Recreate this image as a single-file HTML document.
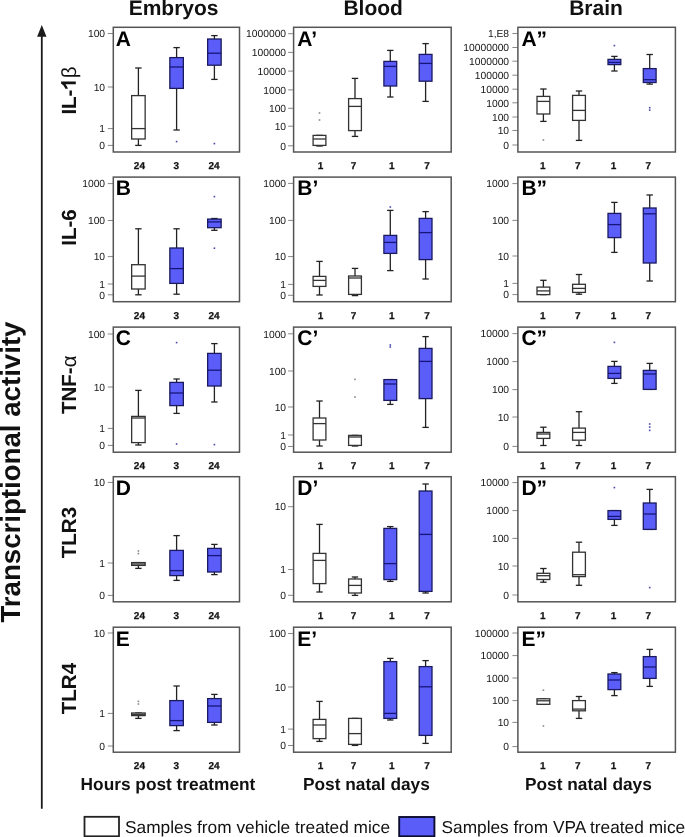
<!DOCTYPE html>
<html><head><meta charset="utf-8"><style>
html,body{margin:0;padding:0;background:#fff;}
body{width:685px;height:837px;overflow:hidden;}
svg{display:block;font-family:"Liberation Sans",sans-serif;will-change:transform;text-rendering:geometricPrecision;}
</style></head><body>
<svg width="685" height="837" viewBox="0 0 685 837">
<rect width="685" height="837" fill="#fff"/>
<text x="173.6" y="14.9" font-size="21" font-weight="bold" text-anchor="middle" fill="#111">Embryos</text>
<text x="373.2" y="14.9" font-size="21" font-weight="bold" text-anchor="middle" fill="#111">Blood</text>
<text x="596.0" y="14.9" font-size="21" font-weight="bold" text-anchor="middle" fill="#111">Brain</text>
<line x1="41.8" y1="34" x2="41.8" y2="808.8" stroke="#1a1a1a" stroke-width="1.8"/>
<polygon points="41.8,25 37.1,36.7 46.5,36.7" fill="#1a1a1a"/>
<text transform="translate(19.9,622.6) rotate(-90)" font-size="27.65" font-weight="bold" fill="#111">Transcriptional activity</text>
<g transform="translate(75.8,114.6) rotate(-90)" fill="#111"><text font-size="20.5" font-weight="bold">IL-</text><path d="M0.395 0L0.395 0.716L0.283 0.716C0.252 0.63 0.17 0.56 0.042 0.51L0.042 0.385C0.12 0.41 0.2 0.455 0.255 0.505L0.255 0Z" transform="translate(25.05,0) scale(20.5,-20.5)"/><text x="36.45" font-size="20.5">β</text></g>
<text transform="translate(75.8,245.8) rotate(-90)" font-size="20.5" font-weight="bold" fill="#111">IL-6</text>
<text transform="translate(75.8,414.0) rotate(-90)" font-size="20.5" font-weight="bold" fill="#111">TNF-<tspan font-weight="normal">α</tspan></text>
<text transform="translate(75.8,558.2) rotate(-90)" font-size="20.5" font-weight="bold" fill="#111">TLR3</text>
<text transform="translate(75.8,714.2) rotate(-90)" font-size="20.5" font-weight="bold" fill="#111">TLR4</text>
<line x1="107.8" y1="33.5" x2="113.3" y2="33.5" stroke="#888" stroke-width="1"/>
<text x="105.1" y="37.2" font-size="10.3" text-anchor="end" fill="#151515">100</text>
<line x1="107.8" y1="87.0" x2="113.3" y2="87.0" stroke="#888" stroke-width="1"/>
<text x="105.1" y="90.7" font-size="10.3" text-anchor="end" fill="#151515">10</text>
<line x1="107.8" y1="128.6" x2="113.3" y2="128.6" stroke="#888" stroke-width="1"/>
<text x="105.1" y="132.3" font-size="10.3" text-anchor="end" fill="#151515">1</text>
<line x1="107.8" y1="145.4" x2="113.3" y2="145.4" stroke="#888" stroke-width="1"/>
<text x="105.1" y="149.1" font-size="10.3" text-anchor="end" fill="#151515">0</text>
<line x1="138.4" y1="68" x2="138.4" y2="95.6" stroke="#222" stroke-width="1.3"/>
<line x1="135.20000000000002" y1="68" x2="141.6" y2="68" stroke="#222" stroke-width="1.3"/>
<line x1="138.4" y1="139" x2="138.4" y2="145.4" stroke="#222" stroke-width="1.3"/>
<line x1="135.20000000000002" y1="145.4" x2="141.6" y2="145.4" stroke="#222" stroke-width="1.3"/>
<rect x="131.65" y="95.6" width="13.5" height="43.4" fill="#fff" stroke="#333" stroke-width="1.3"/>
<line x1="131.65" y1="128.6" x2="145.15" y2="128.6" stroke="#333" stroke-width="1.3"/>
<line x1="176.6" y1="47.6" x2="176.6" y2="57.6" stroke="#222" stroke-width="1.3"/>
<line x1="173.4" y1="47.6" x2="179.79999999999998" y2="47.6" stroke="#222" stroke-width="1.3"/>
<line x1="176.6" y1="88.4" x2="176.6" y2="130" stroke="#222" stroke-width="1.3"/>
<line x1="173.4" y1="130" x2="179.79999999999998" y2="130" stroke="#222" stroke-width="1.3"/>
<rect x="169.85" y="57.6" width="13.5" height="30.8" fill="#5b5df8" stroke="#1a1a5e" stroke-width="1.3"/>
<line x1="169.85" y1="67" x2="183.35" y2="67" stroke="#16167a" stroke-width="1.3"/>
<rect x="175.79999999999998" y="140.79999999999998" width="1.6" height="1.6" fill="#4848a8"/>
<line x1="214.4" y1="35.6" x2="214.4" y2="39" stroke="#222" stroke-width="1.3"/>
<line x1="211.20000000000002" y1="35.6" x2="217.6" y2="35.6" stroke="#222" stroke-width="1.3"/>
<line x1="214.4" y1="65.2" x2="214.4" y2="79.4" stroke="#222" stroke-width="1.3"/>
<line x1="211.20000000000002" y1="79.4" x2="217.6" y2="79.4" stroke="#222" stroke-width="1.3"/>
<rect x="207.65" y="39" width="13.5" height="26.2" fill="#5b5df8" stroke="#1a1a5e" stroke-width="1.3"/>
<line x1="207.65" y1="53.2" x2="221.15" y2="53.2" stroke="#16167a" stroke-width="1.3"/>
<rect x="213.6" y="142.79999999999998" width="1.6" height="1.6" fill="#4848a8"/>
<rect x="113.3" y="27.3" width="126.2" height="124.7" fill="none" stroke="#555" stroke-width="1.5"/>
<text x="115.7" y="45.6" font-size="21" font-weight="bold" fill="#000">A</text>
<text x="139.4" y="169.4" font-size="10" font-weight="bold" text-anchor="middle" fill="#111" stroke="#111" stroke-width="0.25">24</text>
<text x="176.3" y="169.4" font-size="10" font-weight="bold" text-anchor="middle" fill="#111" stroke="#111" stroke-width="0.25">3</text>
<text x="214.1" y="169.4" font-size="10" font-weight="bold" text-anchor="middle" fill="#111" stroke="#111" stroke-width="0.25">24</text>
<line x1="288.1" y1="33.7" x2="293.6" y2="33.7" stroke="#888" stroke-width="1"/>
<text x="286.1" y="37.4" font-size="10.3" text-anchor="end" fill="#151515">1000000</text>
<line x1="288.1" y1="52.4" x2="293.6" y2="52.4" stroke="#888" stroke-width="1"/>
<text x="286.1" y="56.1" font-size="10.3" text-anchor="end" fill="#151515">100000</text>
<line x1="288.1" y1="71.1" x2="293.6" y2="71.1" stroke="#888" stroke-width="1"/>
<text x="286.1" y="74.8" font-size="10.3" text-anchor="end" fill="#151515">10000</text>
<line x1="288.1" y1="89.9" x2="293.6" y2="89.9" stroke="#888" stroke-width="1"/>
<text x="286.1" y="93.6" font-size="10.3" text-anchor="end" fill="#151515">1000</text>
<line x1="288.1" y1="108.3" x2="293.6" y2="108.3" stroke="#888" stroke-width="1"/>
<text x="286.1" y="112.0" font-size="10.3" text-anchor="end" fill="#151515">100</text>
<line x1="288.1" y1="126.2" x2="293.6" y2="126.2" stroke="#888" stroke-width="1"/>
<text x="286.1" y="129.9" font-size="10.3" text-anchor="end" fill="#151515">10</text>
<line x1="288.1" y1="145.8" x2="293.6" y2="145.8" stroke="#888" stroke-width="1"/>
<text x="286.1" y="149.5" font-size="10.3" text-anchor="end" fill="#151515">0</text>
<line x1="316.3" y1="135.4" x2="322.7" y2="135.4" stroke="#222" stroke-width="1.3"/>
<line x1="319.5" y1="145.4" x2="319.5" y2="146" stroke="#222" stroke-width="1.3"/>
<line x1="316.3" y1="146" x2="322.7" y2="146" stroke="#222" stroke-width="1.3"/>
<rect x="313.1" y="135.4" width="12.8" height="10.0" fill="#fff" stroke="#333" stroke-width="1.3"/>
<line x1="313.1" y1="139" x2="325.9" y2="139" stroke="#333" stroke-width="1.3"/>
<rect x="318.7" y="112.2" width="1.6" height="1.6" fill="#888"/>
<rect x="318.7" y="119.2" width="1.6" height="1.6" fill="#888"/>
<line x1="355.0" y1="78.4" x2="355.0" y2="98.6" stroke="#222" stroke-width="1.3"/>
<line x1="351.8" y1="78.4" x2="358.2" y2="78.4" stroke="#222" stroke-width="1.3"/>
<line x1="355.0" y1="130.6" x2="355.0" y2="136.4" stroke="#222" stroke-width="1.3"/>
<line x1="351.8" y1="136.4" x2="358.2" y2="136.4" stroke="#222" stroke-width="1.3"/>
<rect x="348.6" y="98.6" width="12.8" height="32.0" fill="#fff" stroke="#333" stroke-width="1.3"/>
<line x1="348.6" y1="106.4" x2="361.4" y2="106.4" stroke="#333" stroke-width="1.3"/>
<line x1="390.3" y1="50.4" x2="390.3" y2="61.4" stroke="#222" stroke-width="1.3"/>
<line x1="387.1" y1="50.4" x2="393.5" y2="50.4" stroke="#222" stroke-width="1.3"/>
<line x1="390.3" y1="86" x2="390.3" y2="97" stroke="#222" stroke-width="1.3"/>
<line x1="387.1" y1="97" x2="393.5" y2="97" stroke="#222" stroke-width="1.3"/>
<rect x="383.90000000000003" y="61.4" width="12.8" height="24.6" fill="#5b5df8" stroke="#1a1a5e" stroke-width="1.3"/>
<line x1="383.90000000000003" y1="66.4" x2="396.7" y2="66.4" stroke="#16167a" stroke-width="1.3"/>
<line x1="425.6" y1="43.6" x2="425.6" y2="54.4" stroke="#222" stroke-width="1.3"/>
<line x1="422.40000000000003" y1="43.6" x2="428.8" y2="43.6" stroke="#222" stroke-width="1.3"/>
<line x1="425.6" y1="81.2" x2="425.6" y2="101.4" stroke="#222" stroke-width="1.3"/>
<line x1="422.40000000000003" y1="101.4" x2="428.8" y2="101.4" stroke="#222" stroke-width="1.3"/>
<rect x="419.20000000000005" y="54.4" width="12.8" height="26.8" fill="#5b5df8" stroke="#1a1a5e" stroke-width="1.3"/>
<line x1="419.20000000000005" y1="63.4" x2="432.0" y2="63.4" stroke="#16167a" stroke-width="1.3"/>
<rect x="293.6" y="27.3" width="157.6" height="124.7" fill="none" stroke="#555" stroke-width="1.5"/>
<text x="297.25" y="45.6" font-size="21" font-weight="bold" fill="#000">A’</text>
<text x="320.6" y="169.4" font-size="10" font-weight="bold" text-anchor="middle" fill="#111" stroke="#111" stroke-width="0.25">1</text>
<text x="353.5" y="169.4" font-size="10" font-weight="bold" text-anchor="middle" fill="#111" stroke="#111" stroke-width="0.25">7</text>
<text x="391.8" y="169.4" font-size="10" font-weight="bold" text-anchor="middle" fill="#111" stroke="#111" stroke-width="0.25">1</text>
<text x="427.1" y="169.4" font-size="10" font-weight="bold" text-anchor="middle" fill="#111" stroke="#111" stroke-width="0.25">7</text>
<line x1="512.4" y1="33.5" x2="517.9" y2="33.5" stroke="#888" stroke-width="1"/>
<text x="509.09999999999997" y="37.2" font-size="10.3" text-anchor="end" fill="#151515">1,E8</text>
<line x1="512.4" y1="47.5" x2="517.9" y2="47.5" stroke="#888" stroke-width="1"/>
<text x="509.09999999999997" y="51.2" font-size="10.3" text-anchor="end" fill="#151515">10000000</text>
<line x1="512.4" y1="61.2" x2="517.9" y2="61.2" stroke="#888" stroke-width="1"/>
<text x="509.09999999999997" y="64.9" font-size="10.3" text-anchor="end" fill="#151515">1000000</text>
<line x1="512.4" y1="75.2" x2="517.9" y2="75.2" stroke="#888" stroke-width="1"/>
<text x="509.09999999999997" y="78.9" font-size="10.3" text-anchor="end" fill="#151515">100000</text>
<line x1="512.4" y1="89.2" x2="517.9" y2="89.2" stroke="#888" stroke-width="1"/>
<text x="509.09999999999997" y="92.9" font-size="10.3" text-anchor="end" fill="#151515">10000</text>
<line x1="512.4" y1="102.8" x2="517.9" y2="102.8" stroke="#888" stroke-width="1"/>
<text x="509.09999999999997" y="106.5" font-size="10.3" text-anchor="end" fill="#151515">1000</text>
<line x1="512.4" y1="117.0" x2="517.9" y2="117.0" stroke="#888" stroke-width="1"/>
<text x="509.09999999999997" y="120.7" font-size="10.3" text-anchor="end" fill="#151515">100</text>
<line x1="512.4" y1="130.5" x2="517.9" y2="130.5" stroke="#888" stroke-width="1"/>
<text x="509.09999999999997" y="134.2" font-size="10.3" text-anchor="end" fill="#151515">10</text>
<line x1="512.4" y1="145.0" x2="517.9" y2="145.0" stroke="#888" stroke-width="1"/>
<text x="509.09999999999997" y="148.7" font-size="10.3" text-anchor="end" fill="#151515">0</text>
<line x1="543.4" y1="89" x2="543.4" y2="96.4" stroke="#222" stroke-width="1.3"/>
<line x1="540.1999999999999" y1="89" x2="546.6" y2="89" stroke="#222" stroke-width="1.3"/>
<line x1="543.4" y1="114" x2="543.4" y2="121.4" stroke="#222" stroke-width="1.3"/>
<line x1="540.1999999999999" y1="121.4" x2="546.6" y2="121.4" stroke="#222" stroke-width="1.3"/>
<rect x="537.0" y="96.4" width="12.8" height="17.6" fill="#fff" stroke="#333" stroke-width="1.3"/>
<line x1="537.0" y1="101.4" x2="549.8" y2="101.4" stroke="#333" stroke-width="1.3"/>
<rect x="542.6" y="139.2" width="1.6" height="1.6" fill="#888"/>
<line x1="579.0" y1="91" x2="579.0" y2="95.4" stroke="#222" stroke-width="1.3"/>
<line x1="575.8" y1="91" x2="582.2" y2="91" stroke="#222" stroke-width="1.3"/>
<line x1="579.0" y1="120.4" x2="579.0" y2="140.4" stroke="#222" stroke-width="1.3"/>
<line x1="575.8" y1="140.4" x2="582.2" y2="140.4" stroke="#222" stroke-width="1.3"/>
<rect x="572.6" y="95.4" width="12.8" height="25.0" fill="#fff" stroke="#333" stroke-width="1.3"/>
<line x1="572.6" y1="110.4" x2="585.4" y2="110.4" stroke="#333" stroke-width="1.3"/>
<line x1="614.4" y1="56.4" x2="614.4" y2="59.4" stroke="#222" stroke-width="1.3"/>
<line x1="611.1999999999999" y1="56.4" x2="617.6" y2="56.4" stroke="#222" stroke-width="1.3"/>
<line x1="614.4" y1="64.6" x2="614.4" y2="71" stroke="#222" stroke-width="1.3"/>
<line x1="611.1999999999999" y1="71" x2="617.6" y2="71" stroke="#222" stroke-width="1.3"/>
<rect x="608.0" y="59.4" width="12.8" height="5.2" fill="#5b5df8" stroke="#1a1a5e" stroke-width="1.3"/>
<line x1="608.0" y1="62.4" x2="620.8" y2="62.4" stroke="#16167a" stroke-width="1.3"/>
<rect x="613.6" y="44.800000000000004" width="1.6" height="1.6" fill="#4848a8"/>
<line x1="649.7" y1="54.5" x2="649.7" y2="68.6" stroke="#222" stroke-width="1.3"/>
<line x1="646.5" y1="54.5" x2="652.9000000000001" y2="54.5" stroke="#222" stroke-width="1.3"/>
<line x1="649.7" y1="82.5" x2="649.7" y2="84.1" stroke="#222" stroke-width="1.3"/>
<line x1="646.5" y1="84.1" x2="652.9000000000001" y2="84.1" stroke="#222" stroke-width="1.3"/>
<rect x="643.3000000000001" y="68.6" width="12.8" height="13.9" fill="#5b5df8" stroke="#1a1a5e" stroke-width="1.3"/>
<line x1="643.3000000000001" y1="79.7" x2="656.1" y2="79.7" stroke="#16167a" stroke-width="1.3"/>
<rect x="648.9000000000001" y="106.9" width="1.6" height="1.6" fill="#4848a8"/>
<rect x="648.9000000000001" y="109.3" width="1.6" height="1.6" fill="#4848a8"/>
<rect x="517.9" y="27.3" width="157.5" height="124.7" fill="none" stroke="#555" stroke-width="1.5"/>
<text x="521.4" y="45.6" font-size="21" font-weight="bold" fill="#000">A”</text>
<text x="542.7" y="169.4" font-size="10" font-weight="bold" text-anchor="middle" fill="#111" stroke="#111" stroke-width="0.25">1</text>
<text x="577.8" y="169.4" font-size="10" font-weight="bold" text-anchor="middle" fill="#111" stroke="#111" stroke-width="0.25">7</text>
<text x="613.5" y="169.4" font-size="10" font-weight="bold" text-anchor="middle" fill="#111" stroke="#111" stroke-width="0.25">1</text>
<text x="648.2" y="169.4" font-size="10" font-weight="bold" text-anchor="middle" fill="#111" stroke="#111" stroke-width="0.25">7</text>
<line x1="107.8" y1="183.6" x2="113.3" y2="183.6" stroke="#888" stroke-width="1"/>
<text x="105.1" y="187.3" font-size="10.3" text-anchor="end" fill="#151515">1000</text>
<line x1="107.8" y1="220.5" x2="113.3" y2="220.5" stroke="#888" stroke-width="1"/>
<text x="105.1" y="224.2" font-size="10.3" text-anchor="end" fill="#151515">100</text>
<line x1="107.8" y1="256.6" x2="113.3" y2="256.6" stroke="#888" stroke-width="1"/>
<text x="105.1" y="260.3" font-size="10.3" text-anchor="end" fill="#151515">10</text>
<line x1="107.8" y1="284.0" x2="113.3" y2="284.0" stroke="#888" stroke-width="1"/>
<text x="105.1" y="287.7" font-size="10.3" text-anchor="end" fill="#151515">1</text>
<line x1="107.8" y1="294.8" x2="113.3" y2="294.8" stroke="#888" stroke-width="1"/>
<text x="105.1" y="298.5" font-size="10.3" text-anchor="end" fill="#151515">0</text>
<line x1="138.4" y1="228.8" x2="138.4" y2="264.7" stroke="#222" stroke-width="1.3"/>
<line x1="135.20000000000002" y1="228.8" x2="141.6" y2="228.8" stroke="#222" stroke-width="1.3"/>
<line x1="138.4" y1="289" x2="138.4" y2="294.8" stroke="#222" stroke-width="1.3"/>
<line x1="135.20000000000002" y1="294.8" x2="141.6" y2="294.8" stroke="#222" stroke-width="1.3"/>
<rect x="131.65" y="264.7" width="13.5" height="24.3" fill="#fff" stroke="#333" stroke-width="1.3"/>
<line x1="131.65" y1="276.1" x2="145.15" y2="276.1" stroke="#333" stroke-width="1.3"/>
<line x1="176.6" y1="228.8" x2="176.6" y2="248" stroke="#222" stroke-width="1.3"/>
<line x1="173.4" y1="228.8" x2="179.79999999999998" y2="228.8" stroke="#222" stroke-width="1.3"/>
<line x1="176.6" y1="283.4" x2="176.6" y2="294.2" stroke="#222" stroke-width="1.3"/>
<line x1="173.4" y1="294.2" x2="179.79999999999998" y2="294.2" stroke="#222" stroke-width="1.3"/>
<rect x="169.85" y="248" width="13.5" height="35.4" fill="#5b5df8" stroke="#1a1a5e" stroke-width="1.3"/>
<line x1="169.85" y1="268.6" x2="183.35" y2="268.6" stroke="#16167a" stroke-width="1.3"/>
<line x1="214.4" y1="218.5" x2="214.4" y2="219.1" stroke="#222" stroke-width="1.3"/>
<line x1="211.20000000000002" y1="218.5" x2="217.6" y2="218.5" stroke="#222" stroke-width="1.3"/>
<line x1="214.4" y1="227.7" x2="214.4" y2="230.3" stroke="#222" stroke-width="1.3"/>
<line x1="211.20000000000002" y1="230.3" x2="217.6" y2="230.3" stroke="#222" stroke-width="1.3"/>
<rect x="207.65" y="219.1" width="13.5" height="8.6" fill="#5b5df8" stroke="#1a1a5e" stroke-width="1.3"/>
<line x1="207.65" y1="221.9" x2="221.15" y2="221.9" stroke="#16167a" stroke-width="1.3"/>
<rect x="213.6" y="195.79999999999998" width="1.6" height="1.6" fill="#4848a8"/>
<rect x="213.6" y="247.39999999999998" width="1.6" height="1.6" fill="#4848a8"/>
<rect x="113.3" y="177.1" width="126.2" height="124.6" fill="none" stroke="#555" stroke-width="1.5"/>
<text x="115.7" y="195.4" font-size="21" font-weight="bold" fill="#000">B</text>
<text x="139.4" y="319.4" font-size="10" font-weight="bold" text-anchor="middle" fill="#111" stroke="#111" stroke-width="0.25">24</text>
<text x="176.3" y="319.4" font-size="10" font-weight="bold" text-anchor="middle" fill="#111" stroke="#111" stroke-width="0.25">3</text>
<text x="214.1" y="319.4" font-size="10" font-weight="bold" text-anchor="middle" fill="#111" stroke="#111" stroke-width="0.25">24</text>
<line x1="288.1" y1="183.4" x2="293.6" y2="183.4" stroke="#888" stroke-width="1"/>
<text x="286.1" y="187.1" font-size="10.3" text-anchor="end" fill="#151515">1000</text>
<line x1="288.1" y1="220.4" x2="293.6" y2="220.4" stroke="#888" stroke-width="1"/>
<text x="286.1" y="224.1" font-size="10.3" text-anchor="end" fill="#151515">100</text>
<line x1="288.1" y1="256.6" x2="293.6" y2="256.6" stroke="#888" stroke-width="1"/>
<text x="286.1" y="260.3" font-size="10.3" text-anchor="end" fill="#151515">10</text>
<line x1="288.1" y1="284.4" x2="293.6" y2="284.4" stroke="#888" stroke-width="1"/>
<text x="286.1" y="288.1" font-size="10.3" text-anchor="end" fill="#151515">1</text>
<line x1="288.1" y1="295.3" x2="293.6" y2="295.3" stroke="#888" stroke-width="1"/>
<text x="286.1" y="299.0" font-size="10.3" text-anchor="end" fill="#151515">0</text>
<line x1="319.5" y1="261.4" x2="319.5" y2="276.4" stroke="#222" stroke-width="1.3"/>
<line x1="316.3" y1="261.4" x2="322.7" y2="261.4" stroke="#222" stroke-width="1.3"/>
<line x1="319.5" y1="286.4" x2="319.5" y2="295" stroke="#222" stroke-width="1.3"/>
<line x1="316.3" y1="295" x2="322.7" y2="295" stroke="#222" stroke-width="1.3"/>
<rect x="313.1" y="276.4" width="12.8" height="10.0" fill="#fff" stroke="#333" stroke-width="1.3"/>
<line x1="313.1" y1="280.4" x2="325.9" y2="280.4" stroke="#333" stroke-width="1.3"/>
<line x1="355.0" y1="268.4" x2="355.0" y2="276" stroke="#222" stroke-width="1.3"/>
<line x1="351.8" y1="268.4" x2="358.2" y2="268.4" stroke="#222" stroke-width="1.3"/>
<line x1="355.0" y1="294.4" x2="355.0" y2="295.6" stroke="#222" stroke-width="1.3"/>
<line x1="351.8" y1="295.6" x2="358.2" y2="295.6" stroke="#222" stroke-width="1.3"/>
<rect x="348.6" y="276" width="12.8" height="18.4" fill="#fff" stroke="#333" stroke-width="1.3"/>
<line x1="348.6" y1="278" x2="361.4" y2="278" stroke="#333" stroke-width="1.3"/>
<line x1="390.3" y1="210.4" x2="390.3" y2="235.4" stroke="#222" stroke-width="1.3"/>
<line x1="387.1" y1="210.4" x2="393.5" y2="210.4" stroke="#222" stroke-width="1.3"/>
<line x1="390.3" y1="253.4" x2="390.3" y2="270.6" stroke="#222" stroke-width="1.3"/>
<line x1="387.1" y1="270.6" x2="393.5" y2="270.6" stroke="#222" stroke-width="1.3"/>
<rect x="383.90000000000003" y="235.4" width="12.8" height="18.0" fill="#5b5df8" stroke="#1a1a5e" stroke-width="1.3"/>
<line x1="383.90000000000003" y1="242.4" x2="396.7" y2="242.4" stroke="#16167a" stroke-width="1.3"/>
<rect x="389.5" y="206.2" width="1.6" height="1.6" fill="#4848a8"/>
<line x1="425.6" y1="211.6" x2="425.6" y2="218.4" stroke="#222" stroke-width="1.3"/>
<line x1="422.40000000000003" y1="211.6" x2="428.8" y2="211.6" stroke="#222" stroke-width="1.3"/>
<line x1="425.6" y1="259.6" x2="425.6" y2="279" stroke="#222" stroke-width="1.3"/>
<line x1="422.40000000000003" y1="279" x2="428.8" y2="279" stroke="#222" stroke-width="1.3"/>
<rect x="419.20000000000005" y="218.4" width="12.8" height="41.2" fill="#5b5df8" stroke="#1a1a5e" stroke-width="1.3"/>
<line x1="419.20000000000005" y1="232.6" x2="432.0" y2="232.6" stroke="#16167a" stroke-width="1.3"/>
<rect x="293.6" y="177.1" width="157.6" height="124.6" fill="none" stroke="#555" stroke-width="1.5"/>
<text x="297.25" y="195.4" font-size="21" font-weight="bold" fill="#000">B’</text>
<text x="320.6" y="319.4" font-size="10" font-weight="bold" text-anchor="middle" fill="#111" stroke="#111" stroke-width="0.25">1</text>
<text x="353.5" y="319.4" font-size="10" font-weight="bold" text-anchor="middle" fill="#111" stroke="#111" stroke-width="0.25">7</text>
<text x="391.8" y="319.4" font-size="10" font-weight="bold" text-anchor="middle" fill="#111" stroke="#111" stroke-width="0.25">1</text>
<text x="427.1" y="319.4" font-size="10" font-weight="bold" text-anchor="middle" fill="#111" stroke="#111" stroke-width="0.25">7</text>
<line x1="512.4" y1="183.6" x2="517.9" y2="183.6" stroke="#888" stroke-width="1"/>
<text x="509.09999999999997" y="187.3" font-size="10.3" text-anchor="end" fill="#151515">1000</text>
<line x1="512.4" y1="220.4" x2="517.9" y2="220.4" stroke="#888" stroke-width="1"/>
<text x="509.09999999999997" y="224.1" font-size="10.3" text-anchor="end" fill="#151515">100</text>
<line x1="512.4" y1="256.0" x2="517.9" y2="256.0" stroke="#888" stroke-width="1"/>
<text x="509.09999999999997" y="259.7" font-size="10.3" text-anchor="end" fill="#151515">10</text>
<line x1="512.4" y1="283.4" x2="517.9" y2="283.4" stroke="#888" stroke-width="1"/>
<text x="509.09999999999997" y="287.1" font-size="10.3" text-anchor="end" fill="#151515">1</text>
<line x1="512.4" y1="294.6" x2="517.9" y2="294.6" stroke="#888" stroke-width="1"/>
<text x="509.09999999999997" y="298.3" font-size="10.3" text-anchor="end" fill="#151515">0</text>
<line x1="543.4" y1="280.3" x2="543.4" y2="287.1" stroke="#222" stroke-width="1.3"/>
<line x1="540.1999999999999" y1="280.3" x2="546.6" y2="280.3" stroke="#222" stroke-width="1.3"/>
<line x1="540.1999999999999" y1="294.6" x2="546.6" y2="294.6" stroke="#222" stroke-width="1.3"/>
<rect x="537.0" y="287.1" width="12.8" height="7.5" fill="#fff" stroke="#333" stroke-width="1.3"/>
<line x1="537.0" y1="290.9" x2="549.8" y2="290.9" stroke="#333" stroke-width="1.3"/>
<line x1="579.0" y1="274.5" x2="579.0" y2="284.3" stroke="#222" stroke-width="1.3"/>
<line x1="575.8" y1="274.5" x2="582.2" y2="274.5" stroke="#222" stroke-width="1.3"/>
<line x1="579.0" y1="292.4" x2="579.0" y2="294.2" stroke="#222" stroke-width="1.3"/>
<line x1="575.8" y1="294.2" x2="582.2" y2="294.2" stroke="#222" stroke-width="1.3"/>
<rect x="572.6" y="284.3" width="12.8" height="8.1" fill="#fff" stroke="#333" stroke-width="1.3"/>
<line x1="572.6" y1="288.4" x2="585.4" y2="288.4" stroke="#333" stroke-width="1.3"/>
<line x1="614.4" y1="202.4" x2="614.4" y2="213.4" stroke="#222" stroke-width="1.3"/>
<line x1="611.1999999999999" y1="202.4" x2="617.6" y2="202.4" stroke="#222" stroke-width="1.3"/>
<line x1="614.4" y1="237.6" x2="614.4" y2="252.4" stroke="#222" stroke-width="1.3"/>
<line x1="611.1999999999999" y1="252.4" x2="617.6" y2="252.4" stroke="#222" stroke-width="1.3"/>
<rect x="608.0" y="213.4" width="12.8" height="24.2" fill="#5b5df8" stroke="#1a1a5e" stroke-width="1.3"/>
<line x1="608.0" y1="224.6" x2="620.8" y2="224.6" stroke="#16167a" stroke-width="1.3"/>
<line x1="649.7" y1="195" x2="649.7" y2="208" stroke="#222" stroke-width="1.3"/>
<line x1="646.5" y1="195" x2="652.9000000000001" y2="195" stroke="#222" stroke-width="1.3"/>
<line x1="649.7" y1="263" x2="649.7" y2="281" stroke="#222" stroke-width="1.3"/>
<line x1="646.5" y1="281" x2="652.9000000000001" y2="281" stroke="#222" stroke-width="1.3"/>
<rect x="643.3000000000001" y="208" width="12.8" height="55.0" fill="#5b5df8" stroke="#1a1a5e" stroke-width="1.3"/>
<line x1="643.3000000000001" y1="213.8" x2="656.1" y2="213.8" stroke="#16167a" stroke-width="1.3"/>
<rect x="517.9" y="177.1" width="157.5" height="124.6" fill="none" stroke="#555" stroke-width="1.5"/>
<text x="521.4" y="195.4" font-size="21" font-weight="bold" fill="#000">B”</text>
<text x="542.7" y="319.4" font-size="10" font-weight="bold" text-anchor="middle" fill="#111" stroke="#111" stroke-width="0.25">1</text>
<text x="577.8" y="319.4" font-size="10" font-weight="bold" text-anchor="middle" fill="#111" stroke="#111" stroke-width="0.25">7</text>
<text x="613.5" y="319.4" font-size="10" font-weight="bold" text-anchor="middle" fill="#111" stroke="#111" stroke-width="0.25">1</text>
<text x="648.2" y="319.4" font-size="10" font-weight="bold" text-anchor="middle" fill="#111" stroke="#111" stroke-width="0.25">7</text>
<line x1="107.8" y1="334.0" x2="113.3" y2="334.0" stroke="#888" stroke-width="1"/>
<text x="105.1" y="337.7" font-size="10.3" text-anchor="end" fill="#151515">100</text>
<line x1="107.8" y1="387.0" x2="113.3" y2="387.0" stroke="#888" stroke-width="1"/>
<text x="105.1" y="390.7" font-size="10.3" text-anchor="end" fill="#151515">10</text>
<line x1="107.8" y1="428.4" x2="113.3" y2="428.4" stroke="#888" stroke-width="1"/>
<text x="105.1" y="432.1" font-size="10.3" text-anchor="end" fill="#151515">1</text>
<line x1="107.8" y1="445.4" x2="113.3" y2="445.4" stroke="#888" stroke-width="1"/>
<text x="105.1" y="449.1" font-size="10.3" text-anchor="end" fill="#151515">0</text>
<line x1="138.4" y1="390.4" x2="138.4" y2="416.4" stroke="#222" stroke-width="1.3"/>
<line x1="135.20000000000002" y1="390.4" x2="141.6" y2="390.4" stroke="#222" stroke-width="1.3"/>
<line x1="138.4" y1="442.6" x2="138.4" y2="445" stroke="#222" stroke-width="1.3"/>
<line x1="135.20000000000002" y1="445" x2="141.6" y2="445" stroke="#222" stroke-width="1.3"/>
<rect x="131.65" y="416.4" width="13.5" height="26.2" fill="#fff" stroke="#333" stroke-width="1.3"/>
<line x1="131.65" y1="418" x2="145.15" y2="418" stroke="#333" stroke-width="1.3"/>
<line x1="176.6" y1="379" x2="176.6" y2="382.4" stroke="#222" stroke-width="1.3"/>
<line x1="173.4" y1="379" x2="179.79999999999998" y2="379" stroke="#222" stroke-width="1.3"/>
<line x1="176.6" y1="405.6" x2="176.6" y2="413.4" stroke="#222" stroke-width="1.3"/>
<line x1="173.4" y1="413.4" x2="179.79999999999998" y2="413.4" stroke="#222" stroke-width="1.3"/>
<rect x="169.85" y="382.4" width="13.5" height="23.2" fill="#5b5df8" stroke="#1a1a5e" stroke-width="1.3"/>
<line x1="169.85" y1="393" x2="183.35" y2="393" stroke="#16167a" stroke-width="1.3"/>
<rect x="175.79999999999998" y="341.8" width="1.6" height="1.6" fill="#4848a8"/>
<rect x="175.79999999999998" y="443.2" width="1.6" height="1.6" fill="#4848a8"/>
<line x1="214.4" y1="343.6" x2="214.4" y2="353.4" stroke="#222" stroke-width="1.3"/>
<line x1="211.20000000000002" y1="343.6" x2="217.6" y2="343.6" stroke="#222" stroke-width="1.3"/>
<line x1="214.4" y1="386" x2="214.4" y2="402" stroke="#222" stroke-width="1.3"/>
<line x1="211.20000000000002" y1="402" x2="217.6" y2="402" stroke="#222" stroke-width="1.3"/>
<rect x="207.65" y="353.4" width="13.5" height="32.6" fill="#5b5df8" stroke="#1a1a5e" stroke-width="1.3"/>
<line x1="207.65" y1="370.2" x2="221.15" y2="370.2" stroke="#16167a" stroke-width="1.3"/>
<rect x="213.6" y="443.8" width="1.6" height="1.6" fill="#4848a8"/>
<rect x="113.3" y="327.1" width="126.2" height="125.1" fill="none" stroke="#555" stroke-width="1.5"/>
<text x="115.7" y="345.4" font-size="21" font-weight="bold" fill="#000">C</text>
<text x="139.4" y="469.4" font-size="10" font-weight="bold" text-anchor="middle" fill="#111" stroke="#111" stroke-width="0.25">24</text>
<text x="176.3" y="469.4" font-size="10" font-weight="bold" text-anchor="middle" fill="#111" stroke="#111" stroke-width="0.25">3</text>
<text x="214.1" y="469.4" font-size="10" font-weight="bold" text-anchor="middle" fill="#111" stroke="#111" stroke-width="0.25">24</text>
<line x1="288.1" y1="333.8" x2="293.6" y2="333.8" stroke="#888" stroke-width="1"/>
<text x="286.1" y="337.5" font-size="10.3" text-anchor="end" fill="#151515">1000</text>
<line x1="288.1" y1="371.0" x2="293.6" y2="371.0" stroke="#888" stroke-width="1"/>
<text x="286.1" y="374.7" font-size="10.3" text-anchor="end" fill="#151515">100</text>
<line x1="288.1" y1="407.0" x2="293.6" y2="407.0" stroke="#888" stroke-width="1"/>
<text x="286.1" y="410.7" font-size="10.3" text-anchor="end" fill="#151515">10</text>
<line x1="288.1" y1="435.0" x2="293.6" y2="435.0" stroke="#888" stroke-width="1"/>
<text x="286.1" y="438.7" font-size="10.3" text-anchor="end" fill="#151515">1</text>
<line x1="288.1" y1="446.5" x2="293.6" y2="446.5" stroke="#888" stroke-width="1"/>
<text x="286.1" y="450.2" font-size="10.3" text-anchor="end" fill="#151515">0</text>
<line x1="319.5" y1="401" x2="319.5" y2="418" stroke="#222" stroke-width="1.3"/>
<line x1="316.3" y1="401" x2="322.7" y2="401" stroke="#222" stroke-width="1.3"/>
<line x1="319.5" y1="440" x2="319.5" y2="446" stroke="#222" stroke-width="1.3"/>
<line x1="316.3" y1="446" x2="322.7" y2="446" stroke="#222" stroke-width="1.3"/>
<rect x="313.1" y="418" width="12.8" height="22.0" fill="#fff" stroke="#333" stroke-width="1.3"/>
<line x1="313.1" y1="423.6" x2="325.9" y2="423.6" stroke="#333" stroke-width="1.3"/>
<line x1="351.8" y1="435.4" x2="358.2" y2="435.4" stroke="#222" stroke-width="1.3"/>
<line x1="355.0" y1="445.4" x2="355.0" y2="446" stroke="#222" stroke-width="1.3"/>
<line x1="351.8" y1="446" x2="358.2" y2="446" stroke="#222" stroke-width="1.3"/>
<rect x="348.6" y="435.4" width="12.8" height="10.0" fill="#fff" stroke="#333" stroke-width="1.3"/>
<line x1="348.6" y1="437" x2="361.4" y2="437" stroke="#333" stroke-width="1.3"/>
<rect x="354.2" y="378.59999999999997" width="1.6" height="1.6" fill="#888"/>
<rect x="354.2" y="396.2" width="1.6" height="1.6" fill="#888"/>
<line x1="387.1" y1="379.6" x2="393.5" y2="379.6" stroke="#222" stroke-width="1.3"/>
<line x1="390.3" y1="400.4" x2="390.3" y2="404.4" stroke="#222" stroke-width="1.3"/>
<line x1="387.1" y1="404.4" x2="393.5" y2="404.4" stroke="#222" stroke-width="1.3"/>
<rect x="383.90000000000003" y="379.6" width="12.8" height="20.8" fill="#5b5df8" stroke="#1a1a5e" stroke-width="1.3"/>
<line x1="383.90000000000003" y1="384" x2="396.7" y2="384" stroke="#16167a" stroke-width="1.3"/>
<rect x="389.5" y="344.2" width="1.6" height="1.6" fill="#4848a8"/>
<rect x="389.5" y="346.2" width="1.6" height="1.6" fill="#4848a8"/>
<line x1="425.6" y1="336.6" x2="425.6" y2="348.4" stroke="#222" stroke-width="1.3"/>
<line x1="422.40000000000003" y1="336.6" x2="428.8" y2="336.6" stroke="#222" stroke-width="1.3"/>
<line x1="425.6" y1="398.6" x2="425.6" y2="427.4" stroke="#222" stroke-width="1.3"/>
<line x1="422.40000000000003" y1="427.4" x2="428.8" y2="427.4" stroke="#222" stroke-width="1.3"/>
<rect x="419.20000000000005" y="348.4" width="12.8" height="50.2" fill="#5b5df8" stroke="#1a1a5e" stroke-width="1.3"/>
<line x1="419.20000000000005" y1="361.4" x2="432.0" y2="361.4" stroke="#16167a" stroke-width="1.3"/>
<rect x="293.6" y="327.1" width="157.6" height="125.1" fill="none" stroke="#555" stroke-width="1.5"/>
<text x="297.25" y="345.4" font-size="21" font-weight="bold" fill="#000">C’</text>
<text x="320.6" y="469.4" font-size="10" font-weight="bold" text-anchor="middle" fill="#111" stroke="#111" stroke-width="0.25">1</text>
<text x="353.5" y="469.4" font-size="10" font-weight="bold" text-anchor="middle" fill="#111" stroke="#111" stroke-width="0.25">7</text>
<text x="391.8" y="469.4" font-size="10" font-weight="bold" text-anchor="middle" fill="#111" stroke="#111" stroke-width="0.25">1</text>
<text x="427.1" y="469.4" font-size="10" font-weight="bold" text-anchor="middle" fill="#111" stroke="#111" stroke-width="0.25">7</text>
<line x1="512.4" y1="333.6" x2="517.9" y2="333.6" stroke="#888" stroke-width="1"/>
<text x="509.09999999999997" y="337.3" font-size="10.3" text-anchor="end" fill="#151515">10000</text>
<line x1="512.4" y1="361.6" x2="517.9" y2="361.6" stroke="#888" stroke-width="1"/>
<text x="509.09999999999997" y="365.3" font-size="10.3" text-anchor="end" fill="#151515">1000</text>
<line x1="512.4" y1="389.6" x2="517.9" y2="389.6" stroke="#888" stroke-width="1"/>
<text x="509.09999999999997" y="393.3" font-size="10.3" text-anchor="end" fill="#151515">100</text>
<line x1="512.4" y1="417.0" x2="517.9" y2="417.0" stroke="#888" stroke-width="1"/>
<text x="509.09999999999997" y="420.7" font-size="10.3" text-anchor="end" fill="#151515">10</text>
<line x1="512.4" y1="446.4" x2="517.9" y2="446.4" stroke="#888" stroke-width="1"/>
<text x="509.09999999999997" y="450.1" font-size="10.3" text-anchor="end" fill="#151515">0</text>
<line x1="543.4" y1="427.2" x2="543.4" y2="432.4" stroke="#222" stroke-width="1.3"/>
<line x1="540.1999999999999" y1="427.2" x2="546.6" y2="427.2" stroke="#222" stroke-width="1.3"/>
<line x1="543.4" y1="438.4" x2="543.4" y2="445.5" stroke="#222" stroke-width="1.3"/>
<line x1="540.1999999999999" y1="445.5" x2="546.6" y2="445.5" stroke="#222" stroke-width="1.3"/>
<rect x="537.0" y="432.4" width="12.8" height="6.0" fill="#fff" stroke="#333" stroke-width="1.3"/>
<line x1="537.0" y1="434" x2="549.8" y2="434" stroke="#333" stroke-width="1.3"/>
<line x1="579.0" y1="411.7" x2="579.0" y2="428.1" stroke="#222" stroke-width="1.3"/>
<line x1="575.8" y1="411.7" x2="582.2" y2="411.7" stroke="#222" stroke-width="1.3"/>
<line x1="579.0" y1="440.2" x2="579.0" y2="445.5" stroke="#222" stroke-width="1.3"/>
<line x1="575.8" y1="445.5" x2="582.2" y2="445.5" stroke="#222" stroke-width="1.3"/>
<rect x="572.6" y="428.1" width="12.8" height="12.1" fill="#fff" stroke="#333" stroke-width="1.3"/>
<line x1="572.6" y1="432.4" x2="585.4" y2="432.4" stroke="#333" stroke-width="1.3"/>
<line x1="614.4" y1="361.4" x2="614.4" y2="366.4" stroke="#222" stroke-width="1.3"/>
<line x1="611.1999999999999" y1="361.4" x2="617.6" y2="361.4" stroke="#222" stroke-width="1.3"/>
<line x1="614.4" y1="378.4" x2="614.4" y2="383.4" stroke="#222" stroke-width="1.3"/>
<line x1="611.1999999999999" y1="383.4" x2="617.6" y2="383.4" stroke="#222" stroke-width="1.3"/>
<rect x="608.0" y="366.4" width="12.8" height="12.0" fill="#5b5df8" stroke="#1a1a5e" stroke-width="1.3"/>
<line x1="608.0" y1="373.4" x2="620.8" y2="373.4" stroke="#16167a" stroke-width="1.3"/>
<rect x="613.6" y="341.59999999999997" width="1.6" height="1.6" fill="#4848a8"/>
<line x1="649.7" y1="363.4" x2="649.7" y2="370.4" stroke="#222" stroke-width="1.3"/>
<line x1="646.5" y1="363.4" x2="652.9000000000001" y2="363.4" stroke="#222" stroke-width="1.3"/>
<line x1="646.5" y1="389.4" x2="652.9000000000001" y2="389.4" stroke="#222" stroke-width="1.3"/>
<rect x="643.3000000000001" y="370.4" width="12.8" height="19.0" fill="#5b5df8" stroke="#1a1a5e" stroke-width="1.3"/>
<line x1="643.3000000000001" y1="374" x2="656.1" y2="374" stroke="#16167a" stroke-width="1.3"/>
<rect x="648.9000000000001" y="423.2" width="1.6" height="1.6" fill="#4848a8"/>
<rect x="648.9000000000001" y="426.2" width="1.6" height="1.6" fill="#4848a8"/>
<rect x="648.9000000000001" y="429.59999999999997" width="1.6" height="1.6" fill="#4848a8"/>
<rect x="517.9" y="327.1" width="157.5" height="125.1" fill="none" stroke="#555" stroke-width="1.5"/>
<text x="521.4" y="345.4" font-size="21" font-weight="bold" fill="#000">C”</text>
<text x="542.7" y="469.4" font-size="10" font-weight="bold" text-anchor="middle" fill="#111" stroke="#111" stroke-width="0.25">1</text>
<text x="577.8" y="469.4" font-size="10" font-weight="bold" text-anchor="middle" fill="#111" stroke="#111" stroke-width="0.25">7</text>
<text x="613.5" y="469.4" font-size="10" font-weight="bold" text-anchor="middle" fill="#111" stroke="#111" stroke-width="0.25">1</text>
<text x="648.2" y="469.4" font-size="10" font-weight="bold" text-anchor="middle" fill="#111" stroke="#111" stroke-width="0.25">7</text>
<line x1="107.8" y1="482.4" x2="113.3" y2="482.4" stroke="#888" stroke-width="1"/>
<text x="105.1" y="486.1" font-size="10.3" text-anchor="end" fill="#151515">10</text>
<line x1="107.8" y1="563.0" x2="113.3" y2="563.0" stroke="#888" stroke-width="1"/>
<text x="105.1" y="566.7" font-size="10.3" text-anchor="end" fill="#151515">1</text>
<line x1="107.8" y1="595.4" x2="113.3" y2="595.4" stroke="#888" stroke-width="1"/>
<text x="105.1" y="599.1" font-size="10.3" text-anchor="end" fill="#151515">0</text>
<line x1="135.20000000000002" y1="562.6" x2="141.6" y2="562.6" stroke="#222" stroke-width="1.3"/>
<line x1="138.4" y1="565.4" x2="138.4" y2="568.4" stroke="#222" stroke-width="1.3"/>
<line x1="135.20000000000002" y1="568.4" x2="141.6" y2="568.4" stroke="#222" stroke-width="1.3"/>
<rect x="131.65" y="562.6" width="13.5" height="2.8" fill="#fff" stroke="#333" stroke-width="1.3"/>
<line x1="131.65" y1="564" x2="145.15" y2="564" stroke="#333" stroke-width="1.3"/>
<rect x="137.6" y="550.2" width="1.6" height="1.6" fill="#888"/>
<rect x="137.6" y="552.8000000000001" width="1.6" height="1.6" fill="#888"/>
<line x1="176.6" y1="535.6" x2="176.6" y2="550.4" stroke="#222" stroke-width="1.3"/>
<line x1="173.4" y1="535.6" x2="179.79999999999998" y2="535.6" stroke="#222" stroke-width="1.3"/>
<line x1="176.6" y1="575.6" x2="176.6" y2="580.4" stroke="#222" stroke-width="1.3"/>
<line x1="173.4" y1="580.4" x2="179.79999999999998" y2="580.4" stroke="#222" stroke-width="1.3"/>
<rect x="169.85" y="550.4" width="13.5" height="25.2" fill="#5b5df8" stroke="#1a1a5e" stroke-width="1.3"/>
<line x1="169.85" y1="570.6" x2="183.35" y2="570.6" stroke="#16167a" stroke-width="1.3"/>
<line x1="214.4" y1="544.4" x2="214.4" y2="548.4" stroke="#222" stroke-width="1.3"/>
<line x1="211.20000000000002" y1="544.4" x2="217.6" y2="544.4" stroke="#222" stroke-width="1.3"/>
<line x1="214.4" y1="572" x2="214.4" y2="574.6" stroke="#222" stroke-width="1.3"/>
<line x1="211.20000000000002" y1="574.6" x2="217.6" y2="574.6" stroke="#222" stroke-width="1.3"/>
<rect x="207.65" y="548.4" width="13.5" height="23.6" fill="#5b5df8" stroke="#1a1a5e" stroke-width="1.3"/>
<line x1="207.65" y1="555.6" x2="221.15" y2="555.6" stroke="#16167a" stroke-width="1.3"/>
<rect x="113.3" y="476.7" width="126.2" height="125.1" fill="none" stroke="#555" stroke-width="1.5"/>
<text x="115.7" y="495.0" font-size="21" font-weight="bold" fill="#000">D</text>
<text x="139.4" y="619.4" font-size="10" font-weight="bold" text-anchor="middle" fill="#111" stroke="#111" stroke-width="0.25">24</text>
<text x="176.3" y="619.4" font-size="10" font-weight="bold" text-anchor="middle" fill="#111" stroke="#111" stroke-width="0.25">3</text>
<text x="214.1" y="619.4" font-size="10" font-weight="bold" text-anchor="middle" fill="#111" stroke="#111" stroke-width="0.25">24</text>
<line x1="288.1" y1="506.7" x2="293.6" y2="506.7" stroke="#888" stroke-width="1"/>
<text x="286.1" y="510.4" font-size="10.3" text-anchor="end" fill="#151515">10</text>
<line x1="288.1" y1="569.5" x2="293.6" y2="569.5" stroke="#888" stroke-width="1"/>
<text x="286.1" y="573.2" font-size="10.3" text-anchor="end" fill="#151515">1</text>
<line x1="288.1" y1="595.3" x2="293.6" y2="595.3" stroke="#888" stroke-width="1"/>
<text x="286.1" y="599.0" font-size="10.3" text-anchor="end" fill="#151515">0</text>
<line x1="319.5" y1="524.4" x2="319.5" y2="553.4" stroke="#222" stroke-width="1.3"/>
<line x1="316.3" y1="524.4" x2="322.7" y2="524.4" stroke="#222" stroke-width="1.3"/>
<line x1="319.5" y1="583.6" x2="319.5" y2="592" stroke="#222" stroke-width="1.3"/>
<line x1="316.3" y1="592" x2="322.7" y2="592" stroke="#222" stroke-width="1.3"/>
<rect x="313.1" y="553.4" width="12.8" height="30.2" fill="#fff" stroke="#333" stroke-width="1.3"/>
<line x1="313.1" y1="560.4" x2="325.9" y2="560.4" stroke="#333" stroke-width="1.3"/>
<line x1="355.0" y1="577" x2="355.0" y2="579" stroke="#222" stroke-width="1.3"/>
<line x1="351.8" y1="577" x2="358.2" y2="577" stroke="#222" stroke-width="1.3"/>
<line x1="355.0" y1="593" x2="355.0" y2="595.4" stroke="#222" stroke-width="1.3"/>
<line x1="351.8" y1="595.4" x2="358.2" y2="595.4" stroke="#222" stroke-width="1.3"/>
<rect x="348.6" y="579" width="12.8" height="14.0" fill="#fff" stroke="#333" stroke-width="1.3"/>
<line x1="348.6" y1="585.4" x2="361.4" y2="585.4" stroke="#333" stroke-width="1.3"/>
<line x1="390.3" y1="526.6" x2="390.3" y2="528.4" stroke="#222" stroke-width="1.3"/>
<line x1="387.1" y1="526.6" x2="393.5" y2="526.6" stroke="#222" stroke-width="1.3"/>
<line x1="390.3" y1="579.6" x2="390.3" y2="581.4" stroke="#222" stroke-width="1.3"/>
<line x1="387.1" y1="581.4" x2="393.5" y2="581.4" stroke="#222" stroke-width="1.3"/>
<rect x="383.90000000000003" y="528.4" width="12.8" height="51.2" fill="#5b5df8" stroke="#1a1a5e" stroke-width="1.3"/>
<line x1="383.90000000000003" y1="563.6" x2="396.7" y2="563.6" stroke="#16167a" stroke-width="1.3"/>
<line x1="425.6" y1="484" x2="425.6" y2="491" stroke="#222" stroke-width="1.3"/>
<line x1="422.40000000000003" y1="484" x2="428.8" y2="484" stroke="#222" stroke-width="1.3"/>
<line x1="425.6" y1="591.4" x2="425.6" y2="593" stroke="#222" stroke-width="1.3"/>
<line x1="422.40000000000003" y1="593" x2="428.8" y2="593" stroke="#222" stroke-width="1.3"/>
<rect x="419.20000000000005" y="491" width="12.8" height="100.4" fill="#5b5df8" stroke="#1a1a5e" stroke-width="1.3"/>
<line x1="419.20000000000005" y1="534.4" x2="432.0" y2="534.4" stroke="#16167a" stroke-width="1.3"/>
<rect x="293.6" y="476.7" width="157.6" height="125.1" fill="none" stroke="#555" stroke-width="1.5"/>
<text x="297.25" y="495.0" font-size="21" font-weight="bold" fill="#000">D’</text>
<text x="320.6" y="619.4" font-size="10" font-weight="bold" text-anchor="middle" fill="#111" stroke="#111" stroke-width="0.25">1</text>
<text x="353.5" y="619.4" font-size="10" font-weight="bold" text-anchor="middle" fill="#111" stroke="#111" stroke-width="0.25">7</text>
<text x="391.8" y="619.4" font-size="10" font-weight="bold" text-anchor="middle" fill="#111" stroke="#111" stroke-width="0.25">1</text>
<text x="427.1" y="619.4" font-size="10" font-weight="bold" text-anchor="middle" fill="#111" stroke="#111" stroke-width="0.25">7</text>
<line x1="512.4" y1="482.6" x2="517.9" y2="482.6" stroke="#888" stroke-width="1"/>
<text x="509.09999999999997" y="486.3" font-size="10.3" text-anchor="end" fill="#151515">10000</text>
<line x1="512.4" y1="510.6" x2="517.9" y2="510.6" stroke="#888" stroke-width="1"/>
<text x="509.09999999999997" y="514.3" font-size="10.3" text-anchor="end" fill="#151515">1000</text>
<line x1="512.4" y1="538.4" x2="517.9" y2="538.4" stroke="#888" stroke-width="1"/>
<text x="509.09999999999997" y="542.1" font-size="10.3" text-anchor="end" fill="#151515">100</text>
<line x1="512.4" y1="566.0" x2="517.9" y2="566.0" stroke="#888" stroke-width="1"/>
<text x="509.09999999999997" y="569.7" font-size="10.3" text-anchor="end" fill="#151515">10</text>
<line x1="512.4" y1="595.0" x2="517.9" y2="595.0" stroke="#888" stroke-width="1"/>
<text x="509.09999999999997" y="598.7" font-size="10.3" text-anchor="end" fill="#151515">0</text>
<line x1="543.4" y1="568.5" x2="543.4" y2="573.3" stroke="#222" stroke-width="1.3"/>
<line x1="540.1999999999999" y1="568.5" x2="546.6" y2="568.5" stroke="#222" stroke-width="1.3"/>
<line x1="543.4" y1="579.5" x2="543.4" y2="582.2" stroke="#222" stroke-width="1.3"/>
<line x1="540.1999999999999" y1="582.2" x2="546.6" y2="582.2" stroke="#222" stroke-width="1.3"/>
<rect x="537.0" y="573.3" width="12.8" height="6.2" fill="#fff" stroke="#333" stroke-width="1.3"/>
<line x1="537.0" y1="575.7" x2="549.8" y2="575.7" stroke="#333" stroke-width="1.3"/>
<line x1="579.0" y1="542.2" x2="579.0" y2="552.2" stroke="#222" stroke-width="1.3"/>
<line x1="575.8" y1="542.2" x2="582.2" y2="542.2" stroke="#222" stroke-width="1.3"/>
<line x1="579.0" y1="576.6" x2="579.0" y2="585.3" stroke="#222" stroke-width="1.3"/>
<line x1="575.8" y1="585.3" x2="582.2" y2="585.3" stroke="#222" stroke-width="1.3"/>
<rect x="572.6" y="552.2" width="12.8" height="24.4" fill="#fff" stroke="#333" stroke-width="1.3"/>
<line x1="572.6" y1="574.7" x2="585.4" y2="574.7" stroke="#333" stroke-width="1.3"/>
<line x1="611.1999999999999" y1="510.6" x2="617.6" y2="510.6" stroke="#222" stroke-width="1.3"/>
<line x1="614.4" y1="519.4" x2="614.4" y2="525.4" stroke="#222" stroke-width="1.3"/>
<line x1="611.1999999999999" y1="525.4" x2="617.6" y2="525.4" stroke="#222" stroke-width="1.3"/>
<rect x="608.0" y="510.6" width="12.8" height="8.8" fill="#5b5df8" stroke="#1a1a5e" stroke-width="1.3"/>
<line x1="608.0" y1="516.4" x2="620.8" y2="516.4" stroke="#16167a" stroke-width="1.3"/>
<rect x="613.6" y="486.8" width="1.6" height="1.6" fill="#4848a8"/>
<line x1="649.7" y1="489.4" x2="649.7" y2="503" stroke="#222" stroke-width="1.3"/>
<line x1="646.5" y1="489.4" x2="652.9000000000001" y2="489.4" stroke="#222" stroke-width="1.3"/>
<line x1="646.5" y1="529.4" x2="652.9000000000001" y2="529.4" stroke="#222" stroke-width="1.3"/>
<rect x="643.3000000000001" y="503" width="12.8" height="26.4" fill="#5b5df8" stroke="#1a1a5e" stroke-width="1.3"/>
<line x1="643.3000000000001" y1="514" x2="656.1" y2="514" stroke="#16167a" stroke-width="1.3"/>
<rect x="648.9000000000001" y="586.8000000000001" width="1.6" height="1.6" fill="#4848a8"/>
<rect x="517.9" y="476.7" width="157.5" height="125.1" fill="none" stroke="#555" stroke-width="1.5"/>
<text x="521.4" y="495.0" font-size="21" font-weight="bold" fill="#000">D”</text>
<text x="542.7" y="619.4" font-size="10" font-weight="bold" text-anchor="middle" fill="#111" stroke="#111" stroke-width="0.25">1</text>
<text x="577.8" y="619.4" font-size="10" font-weight="bold" text-anchor="middle" fill="#111" stroke="#111" stroke-width="0.25">7</text>
<text x="613.5" y="619.4" font-size="10" font-weight="bold" text-anchor="middle" fill="#111" stroke="#111" stroke-width="0.25">1</text>
<text x="648.2" y="619.4" font-size="10" font-weight="bold" text-anchor="middle" fill="#111" stroke="#111" stroke-width="0.25">7</text>
<line x1="107.8" y1="633.0" x2="113.3" y2="633.0" stroke="#888" stroke-width="1"/>
<text x="105.1" y="636.7" font-size="10.3" text-anchor="end" fill="#151515">10</text>
<line x1="107.8" y1="713.4" x2="113.3" y2="713.4" stroke="#888" stroke-width="1"/>
<text x="105.1" y="717.1" font-size="10.3" text-anchor="end" fill="#151515">1</text>
<line x1="107.8" y1="746.0" x2="113.3" y2="746.0" stroke="#888" stroke-width="1"/>
<text x="105.1" y="749.7" font-size="10.3" text-anchor="end" fill="#151515">0</text>
<line x1="135.20000000000002" y1="713" x2="141.6" y2="713" stroke="#222" stroke-width="1.3"/>
<line x1="138.4" y1="715.6" x2="138.4" y2="718.4" stroke="#222" stroke-width="1.3"/>
<line x1="135.20000000000002" y1="718.4" x2="141.6" y2="718.4" stroke="#222" stroke-width="1.3"/>
<rect x="131.65" y="713" width="13.5" height="2.6" fill="#fff" stroke="#333" stroke-width="1.3"/>
<line x1="131.65" y1="714.3" x2="145.15" y2="714.3" stroke="#333" stroke-width="1.3"/>
<rect x="137.6" y="700.6" width="1.6" height="1.6" fill="#888"/>
<rect x="137.6" y="703.2" width="1.6" height="1.6" fill="#888"/>
<line x1="176.6" y1="686" x2="176.6" y2="700.6" stroke="#222" stroke-width="1.3"/>
<line x1="173.4" y1="686" x2="179.79999999999998" y2="686" stroke="#222" stroke-width="1.3"/>
<line x1="176.6" y1="725.6" x2="176.6" y2="730.6" stroke="#222" stroke-width="1.3"/>
<line x1="173.4" y1="730.6" x2="179.79999999999998" y2="730.6" stroke="#222" stroke-width="1.3"/>
<rect x="169.85" y="700.6" width="13.5" height="25.0" fill="#5b5df8" stroke="#1a1a5e" stroke-width="1.3"/>
<line x1="169.85" y1="720.6" x2="183.35" y2="720.6" stroke="#16167a" stroke-width="1.3"/>
<line x1="214.4" y1="694.4" x2="214.4" y2="698.6" stroke="#222" stroke-width="1.3"/>
<line x1="211.20000000000002" y1="694.4" x2="217.6" y2="694.4" stroke="#222" stroke-width="1.3"/>
<line x1="214.4" y1="722.4" x2="214.4" y2="725" stroke="#222" stroke-width="1.3"/>
<line x1="211.20000000000002" y1="725" x2="217.6" y2="725" stroke="#222" stroke-width="1.3"/>
<rect x="207.65" y="698.6" width="13.5" height="23.8" fill="#5b5df8" stroke="#1a1a5e" stroke-width="1.3"/>
<line x1="207.65" y1="706" x2="221.15" y2="706" stroke="#16167a" stroke-width="1.3"/>
<rect x="113.3" y="627.2" width="126.2" height="125.0" fill="none" stroke="#555" stroke-width="1.5"/>
<text x="115.7" y="645.5" font-size="21" font-weight="bold" fill="#000">E</text>
<text x="139.4" y="769.4" font-size="10" font-weight="bold" text-anchor="middle" fill="#111" stroke="#111" stroke-width="0.25">24</text>
<text x="176.3" y="769.4" font-size="10" font-weight="bold" text-anchor="middle" fill="#111" stroke="#111" stroke-width="0.25">3</text>
<text x="214.1" y="769.4" font-size="10" font-weight="bold" text-anchor="middle" fill="#111" stroke="#111" stroke-width="0.25">24</text>
<line x1="288.1" y1="633.5" x2="293.6" y2="633.5" stroke="#888" stroke-width="1"/>
<text x="286.1" y="637.2" font-size="10.3" text-anchor="end" fill="#151515">100</text>
<line x1="288.1" y1="687.0" x2="293.6" y2="687.0" stroke="#888" stroke-width="1"/>
<text x="286.1" y="690.7" font-size="10.3" text-anchor="end" fill="#151515">10</text>
<line x1="288.1" y1="729.1" x2="293.6" y2="729.1" stroke="#888" stroke-width="1"/>
<text x="286.1" y="732.8" font-size="10.3" text-anchor="end" fill="#151515">1</text>
<line x1="288.1" y1="745.5" x2="293.6" y2="745.5" stroke="#888" stroke-width="1"/>
<text x="286.1" y="749.2" font-size="10.3" text-anchor="end" fill="#151515">0</text>
<line x1="319.5" y1="701.4" x2="319.5" y2="719.4" stroke="#222" stroke-width="1.3"/>
<line x1="316.3" y1="701.4" x2="322.7" y2="701.4" stroke="#222" stroke-width="1.3"/>
<line x1="319.5" y1="738.6" x2="319.5" y2="741.4" stroke="#222" stroke-width="1.3"/>
<line x1="316.3" y1="741.4" x2="322.7" y2="741.4" stroke="#222" stroke-width="1.3"/>
<rect x="313.1" y="719.4" width="12.8" height="19.2" fill="#fff" stroke="#333" stroke-width="1.3"/>
<line x1="313.1" y1="725" x2="325.9" y2="725" stroke="#333" stroke-width="1.3"/>
<line x1="351.8" y1="718.4" x2="358.2" y2="718.4" stroke="#222" stroke-width="1.3"/>
<line x1="355.0" y1="744.4" x2="355.0" y2="745.4" stroke="#222" stroke-width="1.3"/>
<line x1="351.8" y1="745.4" x2="358.2" y2="745.4" stroke="#222" stroke-width="1.3"/>
<rect x="348.6" y="718.4" width="12.8" height="26.0" fill="#fff" stroke="#333" stroke-width="1.3"/>
<line x1="348.6" y1="733.6" x2="361.4" y2="733.6" stroke="#333" stroke-width="1.3"/>
<line x1="390.3" y1="658.4" x2="390.3" y2="661.6" stroke="#222" stroke-width="1.3"/>
<line x1="387.1" y1="658.4" x2="393.5" y2="658.4" stroke="#222" stroke-width="1.3"/>
<line x1="390.3" y1="718.4" x2="390.3" y2="720" stroke="#222" stroke-width="1.3"/>
<line x1="387.1" y1="720" x2="393.5" y2="720" stroke="#222" stroke-width="1.3"/>
<rect x="383.90000000000003" y="661.6" width="12.8" height="56.8" fill="#5b5df8" stroke="#1a1a5e" stroke-width="1.3"/>
<line x1="383.90000000000003" y1="713.4" x2="396.7" y2="713.4" stroke="#16167a" stroke-width="1.3"/>
<line x1="425.6" y1="660.6" x2="425.6" y2="666.6" stroke="#222" stroke-width="1.3"/>
<line x1="422.40000000000003" y1="660.6" x2="428.8" y2="660.6" stroke="#222" stroke-width="1.3"/>
<line x1="425.6" y1="735.4" x2="425.6" y2="743.4" stroke="#222" stroke-width="1.3"/>
<line x1="422.40000000000003" y1="743.4" x2="428.8" y2="743.4" stroke="#222" stroke-width="1.3"/>
<rect x="419.20000000000005" y="666.6" width="12.8" height="68.8" fill="#5b5df8" stroke="#1a1a5e" stroke-width="1.3"/>
<line x1="419.20000000000005" y1="686.8" x2="432.0" y2="686.8" stroke="#16167a" stroke-width="1.3"/>
<rect x="293.6" y="627.2" width="157.6" height="125.0" fill="none" stroke="#555" stroke-width="1.5"/>
<text x="297.25" y="645.5" font-size="21" font-weight="bold" fill="#000">E’</text>
<text x="320.6" y="769.4" font-size="10" font-weight="bold" text-anchor="middle" fill="#111" stroke="#111" stroke-width="0.25">1</text>
<text x="353.5" y="769.4" font-size="10" font-weight="bold" text-anchor="middle" fill="#111" stroke="#111" stroke-width="0.25">7</text>
<text x="391.8" y="769.4" font-size="10" font-weight="bold" text-anchor="middle" fill="#111" stroke="#111" stroke-width="0.25">1</text>
<text x="427.1" y="769.4" font-size="10" font-weight="bold" text-anchor="middle" fill="#111" stroke="#111" stroke-width="0.25">7</text>
<line x1="512.4" y1="633.0" x2="517.9" y2="633.0" stroke="#888" stroke-width="1"/>
<text x="509.09999999999997" y="636.7" font-size="10.3" text-anchor="end" fill="#151515">100000</text>
<line x1="512.4" y1="655.6" x2="517.9" y2="655.6" stroke="#888" stroke-width="1"/>
<text x="509.09999999999997" y="659.3" font-size="10.3" text-anchor="end" fill="#151515">10000</text>
<line x1="512.4" y1="678.0" x2="517.9" y2="678.0" stroke="#888" stroke-width="1"/>
<text x="509.09999999999997" y="681.7" font-size="10.3" text-anchor="end" fill="#151515">1000</text>
<line x1="512.4" y1="700.6" x2="517.9" y2="700.6" stroke="#888" stroke-width="1"/>
<text x="509.09999999999997" y="704.3" font-size="10.3" text-anchor="end" fill="#151515">100</text>
<line x1="512.4" y1="722.4" x2="517.9" y2="722.4" stroke="#888" stroke-width="1"/>
<text x="509.09999999999997" y="726.1" font-size="10.3" text-anchor="end" fill="#151515">10</text>
<line x1="512.4" y1="746.6" x2="517.9" y2="746.6" stroke="#888" stroke-width="1"/>
<text x="509.09999999999997" y="750.3" font-size="10.3" text-anchor="end" fill="#151515">0</text>
<line x1="540.1999999999999" y1="698.8" x2="546.6" y2="698.8" stroke="#222" stroke-width="1.3"/>
<line x1="540.1999999999999" y1="704.3" x2="546.6" y2="704.3" stroke="#222" stroke-width="1.3"/>
<rect x="537.0" y="698.8" width="12.8" height="5.5" fill="#fff" stroke="#333" stroke-width="1.3"/>
<line x1="537.0" y1="700.8" x2="549.8" y2="700.8" stroke="#333" stroke-width="1.3"/>
<rect x="542.6" y="689.4000000000001" width="1.6" height="1.6" fill="#888"/>
<rect x="542.6" y="725.2" width="1.6" height="1.6" fill="#888"/>
<line x1="579.0" y1="696.5" x2="579.0" y2="700.6" stroke="#222" stroke-width="1.3"/>
<line x1="575.8" y1="696.5" x2="582.2" y2="696.5" stroke="#222" stroke-width="1.3"/>
<line x1="579.0" y1="710.8" x2="579.0" y2="718.4" stroke="#222" stroke-width="1.3"/>
<line x1="575.8" y1="718.4" x2="582.2" y2="718.4" stroke="#222" stroke-width="1.3"/>
<rect x="572.6" y="700.6" width="12.8" height="10.2" fill="#fff" stroke="#333" stroke-width="1.3"/>
<line x1="572.6" y1="709.1" x2="585.4" y2="709.1" stroke="#333" stroke-width="1.3"/>
<line x1="614.4" y1="672.6" x2="614.4" y2="674" stroke="#222" stroke-width="1.3"/>
<line x1="611.1999999999999" y1="672.6" x2="617.6" y2="672.6" stroke="#222" stroke-width="1.3"/>
<line x1="614.4" y1="689.6" x2="614.4" y2="695.6" stroke="#222" stroke-width="1.3"/>
<line x1="611.1999999999999" y1="695.6" x2="617.6" y2="695.6" stroke="#222" stroke-width="1.3"/>
<rect x="608.0" y="674" width="12.8" height="15.6" fill="#5b5df8" stroke="#1a1a5e" stroke-width="1.3"/>
<line x1="608.0" y1="680" x2="620.8" y2="680" stroke="#16167a" stroke-width="1.3"/>
<line x1="649.7" y1="649.4" x2="649.7" y2="656.6" stroke="#222" stroke-width="1.3"/>
<line x1="646.5" y1="649.4" x2="652.9000000000001" y2="649.4" stroke="#222" stroke-width="1.3"/>
<line x1="649.7" y1="678.4" x2="649.7" y2="686.4" stroke="#222" stroke-width="1.3"/>
<line x1="646.5" y1="686.4" x2="652.9000000000001" y2="686.4" stroke="#222" stroke-width="1.3"/>
<rect x="643.3000000000001" y="656.6" width="12.8" height="21.8" fill="#5b5df8" stroke="#1a1a5e" stroke-width="1.3"/>
<line x1="643.3000000000001" y1="667" x2="656.1" y2="667" stroke="#16167a" stroke-width="1.3"/>
<rect x="517.9" y="627.2" width="157.5" height="125.0" fill="none" stroke="#555" stroke-width="1.5"/>
<text x="521.4" y="645.5" font-size="21" font-weight="bold" fill="#000">E”</text>
<text x="542.7" y="769.4" font-size="10" font-weight="bold" text-anchor="middle" fill="#111" stroke="#111" stroke-width="0.25">1</text>
<text x="577.8" y="769.4" font-size="10" font-weight="bold" text-anchor="middle" fill="#111" stroke="#111" stroke-width="0.25">7</text>
<text x="613.5" y="769.4" font-size="10" font-weight="bold" text-anchor="middle" fill="#111" stroke="#111" stroke-width="0.25">1</text>
<text x="648.2" y="769.4" font-size="10" font-weight="bold" text-anchor="middle" fill="#111" stroke="#111" stroke-width="0.25">7</text>
<text x="80.6" y="789.7" font-size="17.3" font-weight="bold" fill="#111">Hours post treatment</text>
<text x="303" y="789.7" font-size="17.3" font-weight="bold" fill="#111">Post natal days</text>
<text x="525" y="789.7" font-size="17.3" font-weight="bold" fill="#111">Post natal days</text>
<rect x="84.5" y="816.8" width="34.5" height="19.5" fill="#fff" stroke="#222" stroke-width="1.8"/>
<text x="125" y="832.8" font-size="17.3" fill="#111">Samples from vehicle treated mice</text>
<rect x="399.2" y="817" width="35.2" height="19.3" fill="#5b5df8" stroke="#0c0c30" stroke-width="1.9"/>
<text x="441.5" y="832.8" font-size="17.3" fill="#111">Samples from VPA treated mice</text>
</svg>
</body></html>
